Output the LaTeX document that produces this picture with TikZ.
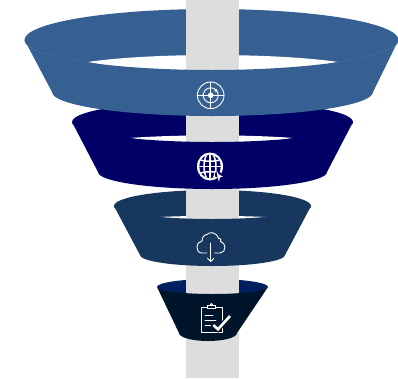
\documentclass[tikz,border=0pt]{standalone}
\usetikzlibrary{arrows}

\definecolor{funnela}{HTML}{376092}
\definecolor{funnelb}{HTML}{000066}
\definecolor{funnelc}{HTML}{17375E}
\definecolor{funneld}{HTML}{002060}
\definecolor{funnele}{HTML}{001529}
\definecolor{barfill}{HTML}{DDDDDD}

\tikzset{icon/.style={draw=white,line width=0.9pt,line cap=round,line join=round}}

\begin{document}
\begin{tikzpicture}[x=1pt,y=-1pt]
\useasboundingbox (0,0) rectangle (398,378);
\begin{scope}
    \fill [funnela] (211.5,40) ellipse [x radius=187, y radius=31];
    \fill [funnelb] (212.5,122) ellipse [x radius=140.5, y radius=21];
    \fill [funnelc] (212.5,206) ellipse [x radius=98.5, y radius=16];
    \fill [funneld] (212.5,287) ellipse [x radius=55.5, y radius=8];

    \fill [white] (88,62) .. controls (150,52.7) and (275,52.7) .. (338,62) -- (212,85) -- cycle;
    \fill [white] (130,138) .. controls (175,134.5) and (250,134.5) .. (293,138) -- (212,150) -- cycle;
    \fill [white] (159,217) .. controls (190,215.5) and (235,215.5) .. (266,217) -- (212,228) -- cycle;

    \fill [barfill] (186,0) rectangle (239,378);

    \fill [funnelc] (114,206) arc [start angle=180, end angle=0, x radius=98.5, y radius=13]
        -- (285,255) arc [start angle=0, end angle=180, x radius=72.5, y radius=11] -- cycle;
    \fill [funnele] (157,287) arc [start angle=180, end angle=0, x radius=55.5, y radius=7]
        -- (237,333) arc [start angle=0, end angle=180, x radius=29, y radius=8] -- cycle;
    \fill [funnelb] (72,122) arc [start angle=180, end angle=0, x radius=140.5, y radius=20]
        -- (327,172) arc [start angle=0, end angle=180, x radius=114.5, y radius=17] -- cycle;
    \fill [funnela] (24.5,40) arc [start angle=180, end angle=0, x radius=187, y radius=30]
        -- (373,92) arc [start angle=0, end angle=180, x radius=160.5, y radius=24] -- cycle;

    \draw [funnela!65!white, line width=0.3pt, densely dotted] (24.5,40) arc [start angle=180, end angle=131.5, x radius=187, y radius=30];
    \draw [funnela!65!white, line width=0.3pt, densely dotted] (398.5,40) arc [start angle=0, end angle=48.5, x radius=187, y radius=30];

    \draw [icon] (210.7,95.3) circle [radius=13.3];
    \draw [icon] (210.7,95.3) circle [radius=7.5];
    \draw [icon] (197.4,95.3) -- (224,95.3);
    \draw [icon] (210.7,82) -- (210.7,108.6);
    \fill [white] (210.7,95.3) circle [radius=2.8];
    \fill [white] (216,90.5) circle [radius=1.6];
    \fill [white] (203.2,95.3) circle [radius=1.3];

    \fill [white] (210,166.5) ellipse [x radius=13, y radius=14];
    \begin{scope}
        \clip (210,166.5) ellipse [x radius=10.8, y radius=11.8];
        \fill [funnelb] (198,154) rectangle (222,179);
        \draw [white, line width=1.5pt] (210,154) -- (210,179);
        \draw [white, line width=1.5pt] (210,166.5) ellipse [x radius=6, y radius=14];
        \draw [white, line width=1.5pt] (198,166.5) -- (222,166.5);
        \draw [white, line width=1.5pt] (198,159) .. controls (204,162) and (216,162) .. (222,159);
        \draw [white, line width=1.5pt] (198,174) .. controls (204,171) and (216,171) .. (222,174);
    \end{scope}
    \fill [funnelb] (218,174.5) circle [radius=3.2];
    \fill [white] (216.5,171) -- (219,174.5) -- (223,176.5) -- (219.8,177.5) -- (219,182) -- (217.5,177) -- cycle;

    \draw [icon] (207,253) -- (202,253) .. controls (198.5,253) and (197,250) .. (197,247.5)
        .. controls (197,244) and (199,241.5) .. (202,241) .. controls (202,236.5) and (205,234.5) .. (207,234.5)
        .. controls (209,232) and (216,231) .. (218.5,238.5) .. controls (222,238.5) and (221,241) .. (220.5,241.5)
        .. controls (223.5,242) and (225,245) .. (225,247.5) .. controls (225,250.5) and (223,253) .. (220,253) -- (214.5,253);
    \draw [icon] (210.7,243) -- (210.7,261.5);
    \draw [icon] (207.5,258.3) -- (210.7,261.5) -- (213.9,258.3);

    \draw [icon] (207,307) -- (201,307) -- (201,332) -- (222.5,332) -- (222.5,307) -- (216,307);
    \draw [icon] (207.3,308.5) -- (207.3,305) -- (215.7,305) -- (215.7,308.5) -- cycle;
    \draw [icon, line width=0.7pt] (211.5,304.5) circle [radius=1.2];
    \draw [icon] (205,315) -- (213,315);
    \draw [icon] (205,320) -- (216,320);
    \draw [icon] (205,325) -- (211,325);
    \draw [funnele, line width=5pt, line cap=round] (213.3,325) -- (218,329.3) -- (230,316);
    \draw [white, line width=2.6pt] (213.3,325) -- (218,329.3) -- (230,316);
\end{scope}
\end{tikzpicture}
\end{document}
